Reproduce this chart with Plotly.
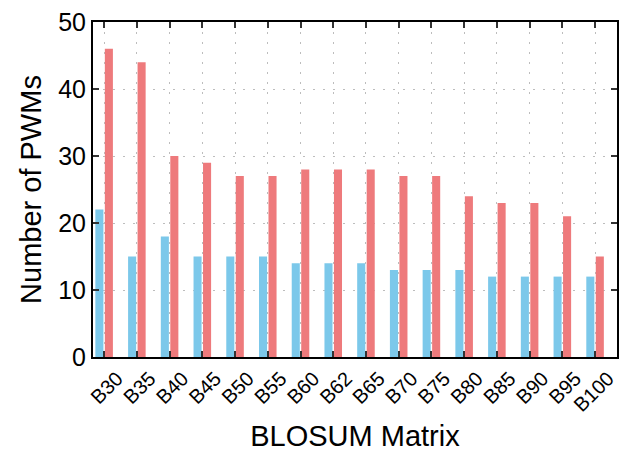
import plotly.graph_objects as go

categories = ["B30", "B35", "B40", "B45", "B50", "B55", "B60", "B62", "B65",
              "B70", "B75", "B80", "B85", "B90", "B95", "B100"]
blue_values = [22, 15, 18, 15, 15, 15, 14, 14, 14, 13, 13, 13, 12, 12, 12, 12]
red_values = [46, 44, 30, 29, 27, 27, 28, 28, 28, 27, 27, 24, 23, 23, 21, 15]

fig = go.Figure()
fig.add_trace(go.Bar(x=categories, y=blue_values, marker_color="#7cc8ea",
                     marker_line_width=0, showlegend=False))
fig.add_trace(go.Bar(x=categories, y=red_values, marker_color="#ee7a7c",
                     marker_line_width=0, showlegend=False))

font_family = "Liberation Sans, Arial, sans-serif"
fig.update_layout(
    width=619, height=455,
    margin=dict(l=93, r=2, t=22, b=98),
    paper_bgcolor="white", plot_bgcolor="white",
    barmode="group", bargap=0.42, bargroupgap=0.15,
    font=dict(family=font_family, color="black"),
)
fig.update_xaxes(
    range=[-0.34, 15.67], automargin=False,
    showline=True, linecolor="black", linewidth=2, mirror="ticks",
    ticks="inside", ticklen=6, tickwidth=2, tickcolor="#333",
    showgrid=True, gridcolor="#bdbdbd", griddash="2px,8px", gridwidth=1,
    tickangle=-45, tickfont=dict(size=20), ticklabelshift=13,
    title=dict(text="BLOSUM Matrix", font=dict(size=29), standoff=11),
)
fig.update_yaxes(
    range=[0, 50], tickvals=[0, 10, 20, 30, 40, 50], automargin=False,
    showline=True, linecolor="black", linewidth=2, mirror="ticks",
    ticks="inside", ticklen=6, tickwidth=2, tickcolor="#333",
    showgrid=True, gridcolor="#bdbdbd", griddash="2px,8px", gridwidth=1,
    zeroline=False,
    tickfont=dict(size=25),
    title=dict(text="Number of PWMs", font=dict(size=29), standoff=8),
)
fig.write_html("out.html", config={"displayModeBar": False},
               post_script="document.body.style.margin='0';")
